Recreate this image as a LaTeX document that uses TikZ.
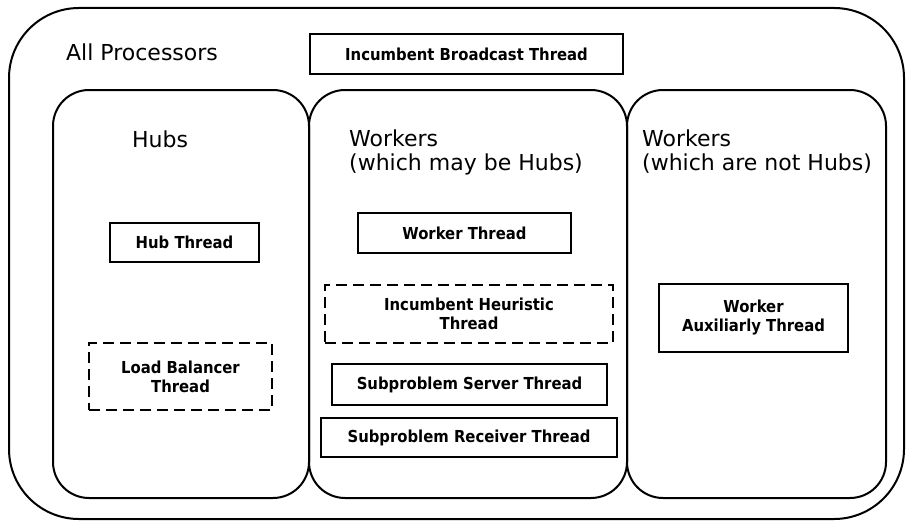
\documentclass[tikz,border=0pt]{standalone}
\usepackage{fontspec}
\setmainfont{DejaVu Sans}
\newfontfamily\threadfont{DejaVu Sans Condensed Bold}

\begin{document}
\begin{tikzpicture}[x=1pt,y=-1pt,
		region/.style={draw,line width=2pt,rounded corners=36pt},
		heading/.style={font=\fontsize{22}{24}\selectfont,align=left,inner sep=0pt},
		thin/.style={line width=1.1pt},
		broken/.style={line width=2.4pt,dash pattern=on 11pt off 6pt}]
			\useasboundingbox (0,0) rectangle (909,527);
			
			\draw [region,rounded corners=70pt] (9,8) rectangle (904,519);
			\draw [region] (53,90) rectangle (309,498);
			\draw [region] (309,90) rectangle (627,498);
			\draw [region] (627,90) rectangle (886,498);
			
			\begin{scope}[every node/.style={heading}]
				\node (AP) [anchor=base west] at (66,60) {All Processors};
				\node (HB) [anchor=base] at (160,147) {Hubs};
				\node (WH) [anchor=north west] at (349,130) {Workers\\(which may be Hubs)};
				\node (WN) [anchor=north west] at (642,130) {Workers\\(which are not Hubs)};
			\end{scope}
			
			\begin{scope}[every node/.style={draw,line width=2pt,inner sep=0pt,align=center,
					font=\threadfont\fontsize{16.5}{19}\selectfont}]
				\node (IBT) [thin,minimum width=313,minimum height=40] at (466.5,54) {Incumbent Broadcast Thread};
				\node (HT) [minimum width=149,minimum height=39] at (184.5,242.5) {Hub Thread};
				\node (LBT) [broken,minimum width=183,minimum height=67] at (180.5,376.5) {Load Balancer\\Thread};
				\node (WT) [minimum width=213,minimum height=40] at (464.5,233) {Worker Thread};
				\node (IHT) [broken,minimum width=288,minimum height=58] at (469,314) {Incumbent Heuristic\\Thread};
				\node (SST) [thin,minimum width=275,minimum height=41] at (469.5,384.5) {Subproblem Server Thread};
				\node (SRT) [thin,minimum width=296,minimum height=39] at (469,437.5) {Subproblem Receiver Thread};
				\node (WAT) [minimum width=189,minimum height=68] at (753.5,318) {Worker\\Auxiliarly Thread};
			\end{scope}
		\end{tikzpicture}
\end{document}
